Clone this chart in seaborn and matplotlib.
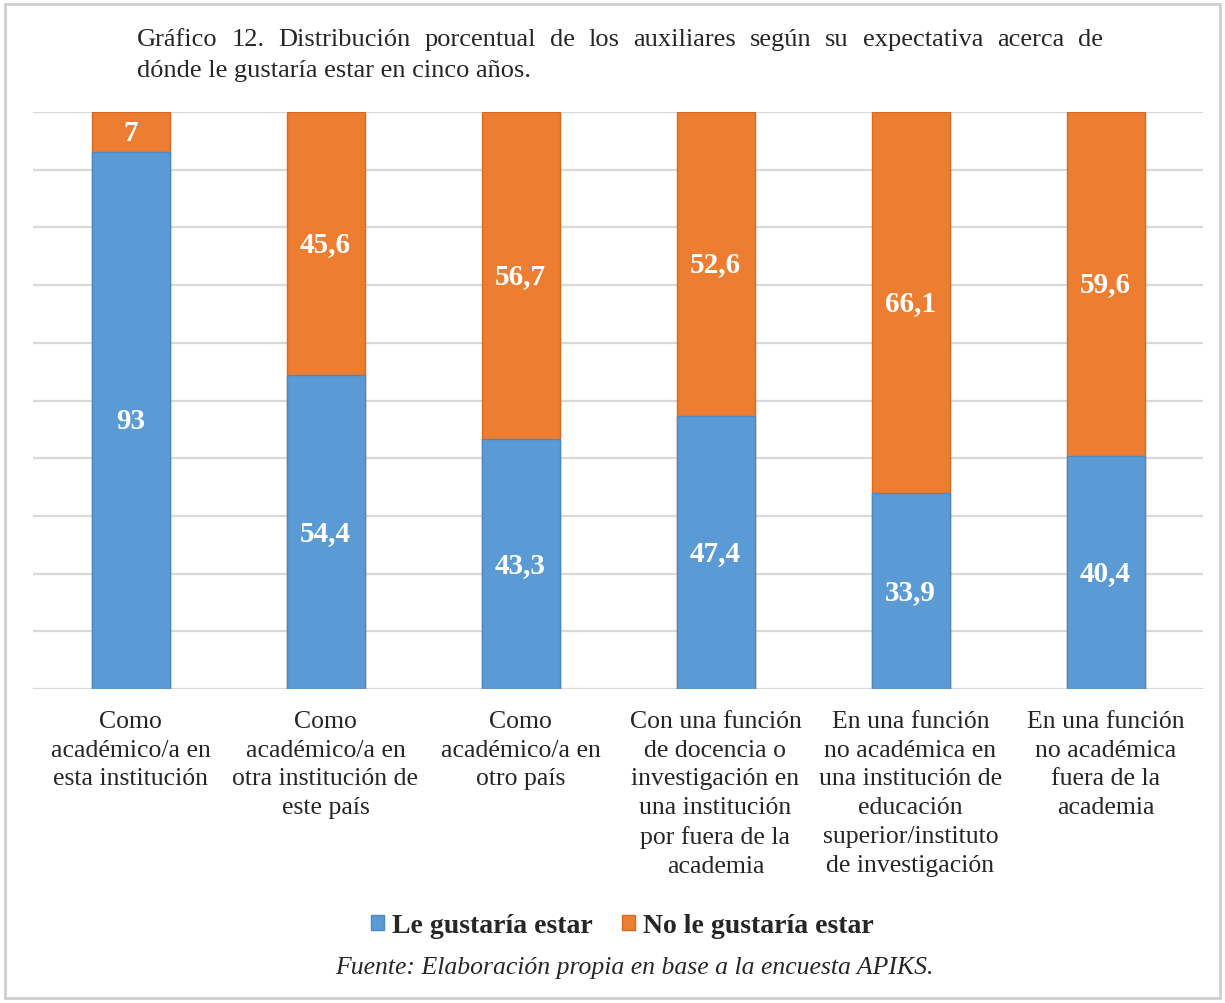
import matplotlib
matplotlib.use("Agg")
import matplotlib.pyplot as plt
from matplotlib.patches import Rectangle, Patch
import seaborn as sns
import pandas as pd

categories = [
    "Como\nacadémico/a en\nesta institución",
    "Como\nacadémico/a en\notra institución de\neste país",
    "Como\nacadémico/a en\notro país",
    "Con una función\nde docencia o\ninvestigación en\nuna institución\npor fuera de la\nacademia",
    "En una función\nno académica en\nuna institución de\neducación\nsuperior/instituto\nde investigación",
    "En una función\nno académica\nfuera de la\nacademia",
]
le_gustaria = [93, 54.4, 43.3, 47.4, 33.9, 40.4]
no_le_gustaria = [7, 45.6, 56.7, 52.6, 66.1, 59.6]
series_names = ["Le gustaría estar", "No le gustaría estar"]
title_line1 = "Gráfico 12. Distribución porcentual de los auxiliares según su expectativa acerca de"
title_line2 = "dónde le gustaría estar en cinco años."
source_text = "Fuente: Elaboración propia en base a la encuesta APIKS."

BLUE = "#5B9BD5"
ORANGE = "#ED7D31"
GRID = "#D9D9D9"

sns.set_theme(style="white")
plt.rcParams["font.family"] = ["Liberation Serif", "DejaVu Serif"]

df = pd.DataFrame({
    "cat": categories,
    "le": le_gustaria,
    "no": no_le_gustaria,
})
df["total"] = df["le"] + df["no"]

W, H = 1225, 1004
fig = plt.figure(figsize=(W / 100, H / 100), dpi=100)
ax = fig.add_axes([33 / W, 1 - 690 / H, 1170 / W, 577 / H])

# stacked bars: full height in orange, lower part in blue
sns.barplot(data=df, x="cat", y="total", color=ORANGE, width=0.4, ax=ax,
            edgecolor="#D56A22", linewidth=1.0, saturation=1)
sns.barplot(data=df, x="cat", y="le", color=BLUE, width=0.4, ax=ax,
            edgecolor="#4A89C4", linewidth=1.0, saturation=1)

ax.set_ylim(0, 100)
ax.set_xlim(-0.5, len(categories) - 0.5)
ax.set_yticks(range(0, 101, 10))
ax.set_yticklabels([])
ax.yaxis.grid(True, color=GRID, linewidth=1.6)
ax.set_axisbelow(True)
for s in ax.spines.values():
    s.set_visible(False)
ax.set_xlabel("")
ax.set_ylabel("")
ax.tick_params(axis="x", length=0, pad=15, labelsize=18.5)
ax.tick_params(axis="y", length=0)
for lbl in ax.get_xticklabels():
    lbl.set_linespacing(1.4)
    lbl.set_verticalalignment("top")


def fmt(v):
    return f"{v:g}".replace(".", ",")


for i, (a, b) in enumerate(zip(df["le"], df["no"])):
    ax.text(i, a / 2, fmt(a), ha="center", va="center", color="white",
            fontsize=21, fontweight="bold")
    ax.text(i, a + b / 2, fmt(b), ha="center", va="center", color="white",
            fontsize=21, fontweight="bold")

# justified first title line
renderer = fig.canvas.get_renderer()
x0, x1 = 137 / W, 1103 / W
TFS = 19
words = title_line1.split(" ")
tmp = [fig.text(0, 0, w, fontsize=TFS) for w in words]
widths = [t.get_window_extent(renderer).width / W for t in tmp]
for t in tmp:
    t.remove()
gap = (x1 - x0 - sum(widths)) / (len(words) - 1)
x = x0
for w, wd in zip(words, widths):
    fig.text(x, 1 - 40 / H, w, fontsize=TFS, va="center", ha="left")
    x += wd + gap
fig.text(x0, 1 - 71 / H, title_line2, fontsize=TFS, va="center", ha="left")

handles = [Patch(facecolor=BLUE, edgecolor="#4A89C4"),
           Patch(facecolor=ORANGE, edgecolor="#D56A22")]
fig.legend(handles, series_names, loc="center", bbox_to_anchor=(622 / W, 1 - 927 / H),
           ncol=2, frameon=False, prop={"size": 20, "weight": "bold"},
           handlelength=0.48, handleheight=0.48, handletextpad=0.28, columnspacing=1.05)

fig.text(634 / W, 1 - 968 / H, source_text, fontsize=18.5, style="italic",
         ha="center", va="center")

fig.patches.append(Rectangle((5 / W, 5 / H), 1215 / W, 994 / H, transform=fig.transFigure,
                             fill=False, edgecolor="#CFCFCF", linewidth=2))

fig.savefig("out.png", dpi=100)
